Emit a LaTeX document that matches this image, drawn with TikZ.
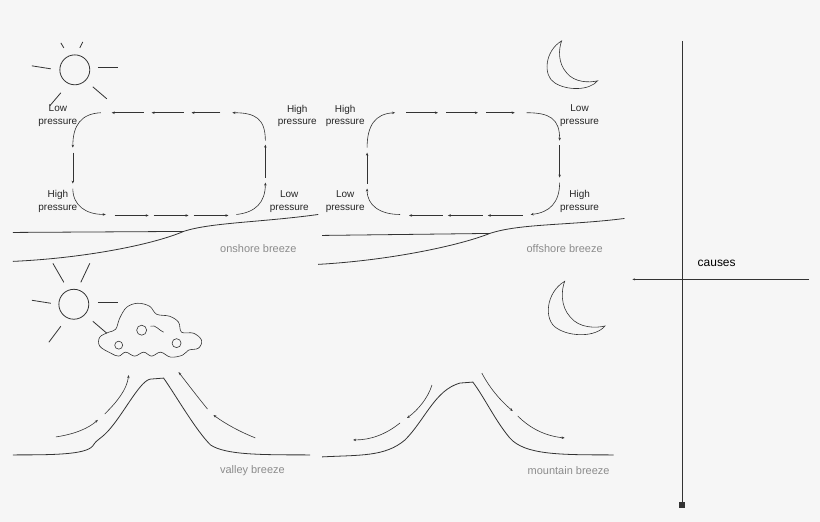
\documentclass[tikz,border=0pt]{standalone}
\usepackage{fontspec}
\setmainfont{Liberation Sans}
\usetikzlibrary{arrows.meta,calc}
\definecolor{bg}{HTML}{F6F6F6}
\definecolor{ln}{HTML}{333333}
\begin{document}
\begin{tikzpicture}[x=1pt,y=-1pt,color=ln,line width=0.8pt,
  f/.style={-{Stealth[length=3pt,width=2.5pt]}},
  b/.style={{Stealth[length=3pt,width=2.5pt]}-},
  lab/.style={font=\fontsize{10}{12.5}\selectfont,align=center,text=black!85,inner sep=0},
  capt/.style={font=\fontsize{11}{12}\selectfont,text=black!45,inner sep=0},
  thin/.style={line width=0.6pt}]
\fill[bg] (-1,-1) rectangle (821,522);
\useasboundingbox (0,0) rectangle (820,521);
% suns
\newcommand{\mysun}[2]{%
\begin{scope}[shift={(#1,#2)}]
\draw (0,0) circle (15);
\draw (-14,-27)--(-11,-22); \draw (8,-28)--(5,-22);
\draw (-43,-4)--(-24,-1); \draw (23,-2)--(43,-2);
\draw (18,17)--(32,29); \draw (-14,23)--(-25,36);
\end{scope}}
\mysun{74}{69}
\draw (52,263)--(63,282); \draw (89,263)--(80,282);
\draw (31,300)--(50,303); \draw (97,302)--(117,302);
\draw (92,321)--(106,333); \draw (60,326)--(48,342);
\draw (73,304) circle (15);
% circulation loop
\newcommand{\loopc}[2]{%
\begin{scope}[shift={(#1,0)},thin]
\draw[#2] (265,140) .. controls (265,118) and (255,112) .. (232,112);
\draw[#2] (220,112)--(191,112); \draw[#2] (183,112)--(151,112); \draw[#2] (143,112)--(111,112);
\draw[#2] (100,112) .. controls (80,113) and (72,125) .. (72,147);
\draw[#2] (72,152)--(72,183);
\draw[#2] (72,188) .. controls (72,205) and (85,214) .. (105,214);
\draw[#2] (114,215)--(148,215); \draw[#2] (153,215)--(188,215); \draw[#2] (193,215)--(228,215);
\draw[#2] (236,214) .. controls (255,212) and (265,202) .. (265,182);
\draw[#2] (265,177)--(265,144);
\end{scope}}
\loopc{0}{f}
\loopc{295}{b}
\node[lab] (l1) at (57,115) {Low\\pressure};
\node[lab] (l2) at (297,115) {High\\pressure};
\node[lab] (l3) at (57,201) {High\\pressure};
\node[lab] (l4) at (289,201) {Low\\pressure};
\node[lab] (r1) at (345,115) {High\\pressure};
\node[lab] (r2) at (580,115) {Low\\pressure};
\node[lab] (r3) at (345,201) {Low\\pressure};
\node[lab] (r4) at (580,201) {High\\pressure};
% coasts
\draw (12,232)--(183,231);
\draw (12,261) .. controls (80,258) and (150,245) .. (183,231) .. controls (210,222) and (260,222) .. (318,214);
\draw (322,235)--(490,233);
\draw (318,264) .. controls (390,260) and (460,245) .. (490,233) .. controls (520,223) and (570,225) .. (625,218);
\node[capt] (c1) at (258,248) {onshore breeze};
\node[capt] (c2) at (565,248) {offshore breeze};
\node[capt] (c3) at (252,471) {valley breeze};
\node[capt] (c4) at (569,471) {mountain breeze};
% moons
\newcommand{\mymoon}[3]{%
\begin{scope}[shift={(#1,#2)},scale=#3]
\draw[thin] (17,0) .. controls (0,10) and (-2,35) .. (10,42) .. controls (22,50) and (45,50) .. (53,40)
 .. controls (45,42) and (30,42) .. (22,32) .. controls (13,22) and (14,8) .. (17,0) -- cycle;
\end{scope}}
\mymoon{545}{40}{1}
\mymoon{546}{281}{1.12}
% cloud
\draw[thin] plot[smooth cycle,tension=0.6] coordinates {(110,353) (99,346) (99,337) (108,332) (115,329) (119,318) (126,307) (137,303) (149,306) (156,314) (169,316) (178,322) (181,332) (193,333) (201,340) (198,348) (188,350) (182,355) (170,357) (160,352) (151,356) (143,352) (134,356) (125,352) (118,356)};
\draw[thin] (118,345) circle (4); \draw[thin] (176,343) circle (4.5); \draw[thin] (141,330) circle (5);
\draw[thin] (150,326) .. controls (155,324) and (158,330) .. (163,332);
% valley
\draw (12,455) .. controls (50,455) and (85,455) .. (92,446) .. controls (97,438) and (100,440) .. (110,428)
 .. controls (125,410) and (140,380) .. (150,379) -- (163,378) .. controls (175,395) and (195,430) .. (210,445)
 .. controls (225,455) and (260,455) .. (310,455);
\draw[thin,f] (55,437) .. controls (75,434) and (88,428) .. (97,420);
\draw[thin,f] (104,414) .. controls (116,402) and (126,390) .. (128,375);
\draw[thin,f] (255,438) .. controls (240,432) and (225,424) .. (213,415);
\draw[thin,f] (207,409) .. controls (198,398) and (188,385) .. (178,372);
% mountain
\draw (322,457) .. controls (360,455) and (385,457) .. (405,440) .. controls (425,420) and (435,390) .. (460,383)
 -- (473,382) .. controls (485,398) and (495,420) .. (510,438) .. controls (525,455) and (560,455) .. (614,455);
\draw[thin,f] (432,385) .. controls (428,398) and (418,410) .. (407,418);
\draw[thin,f] (400,423) .. controls (385,435) and (370,440) .. (353,440);
\draw[thin,f] (482,373) .. controls (490,388) and (500,400) .. (513,411);
\draw[thin,f] (518,416) .. controls (530,428) and (545,436) .. (565,438);
% axes
\coordinate (vt) at (683,40); \coordinate (vb) at (683,505);
\coordinate (hr) at (810,279); \coordinate (hl) at (633,279);
\draw[thin] (vt)--(vb);
\fill ($(vb)+(-3,-3)$) rectangle ($(vb)+(3,3)$);
\draw[thin,-{Stealth[length=2.5pt,width=2pt]}] (hr)--(hl);
\node[inner sep=0,font=\fontsize{12}{14}\selectfont,anchor=west,text=black] (cs) at (698,263) {causes};
\end{tikzpicture}
\end{document}
